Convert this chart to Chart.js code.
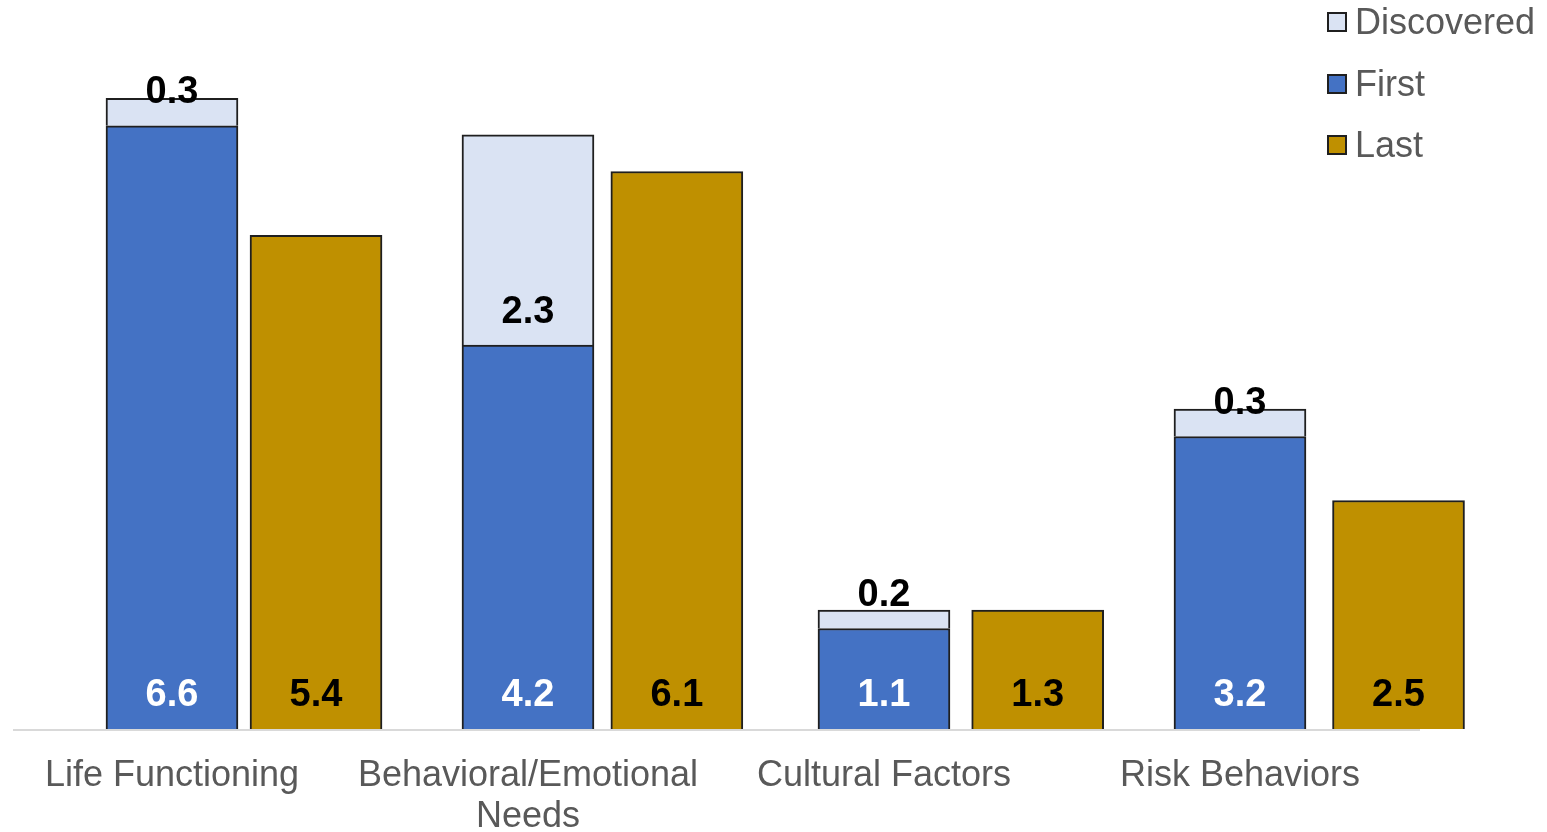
<!DOCTYPE html>
<html>
<head>
<meta charset="utf-8">
<script src="https://cdn.jsdelivr.net/npm/chart.js@4"></script>
<style>
  body { margin: 0; background: #fff; }
  #wrap { position: relative; width: 1547px; height: 832px; }
  #legend { position: absolute; left: 1327px; top: 0; font-family: "Liberation Sans", Arial, sans-serif; font-size: 36px; color: #595959; }
  #legend div { display: flex; align-items: center; height: 44px; margin-bottom: 17.5px; }
  #legend span.box { display: inline-block; width: 16px; height: 16px; border: 2px solid #1f1f1f; margin-right: 8px; }
</style>
</head>
<body>
<div id="wrap">
  <canvas id="myChart"></canvas>
  <div id="legend"></div>
</div>
<script>
/*

FIRST / LAST / DISCOVERED STACKED BARS

*/

const categories = [['Life Functioning'], ['Behavioral/Emotional', 'Needs'], ['Cultural Factors'], ['Risk Behaviors']]
const firstValues = [6.6, 4.2, 1.1, 3.2]
const discoveredValues = [0.3, 2.3, 0.2, 0.3]
const lastValues = [5.4, 6.1, 1.3, 2.5]

const colors = { Discovered: '#DAE3F3', First: '#4472C4', Last: '#BF9000' }
const labelColors = { Discovered: '#000', First: '#fff', Last: '#000' }

// category index -> point, so each series sits on its own x axis
const toPoints = values => values.map((v, i) => ({ x: i, y: v }))

// legend in html, top right, over the plot
const legendEl = document.getElementById('legend')
;['Discovered', 'First', 'Last'].forEach(name => {
    const row = document.createElement('div')
    row.innerHTML = '<span class="box" style="background:' + colors[name] + '"></span>' + name
    legendEl.appendChild(row)
})

// grey baseline like the excel axis line
const baseLine = {
    id: 'baseLine',
    beforeDatasetsDraw(chart) {
        const ctx = chart.ctx
        const y = chart.scales.y.getPixelForValue(0)
        ctx.save()
        ctx.strokeStyle = '#d9d9d9'
        ctx.lineWidth = 2
        ctx.beginPath()
        ctx.moveTo(13, y + 1)
        ctx.lineTo(1420, y + 1)
        ctx.stroke()
        ctx.restore()
    }
}

// value labels at the inside base of each segment
const valueLabels = {
    id: 'valueLabels',
    afterDatasetsDraw(chart) {
        const ctx = chart.ctx
        ctx.save()
        ctx.font = 'bold 38px "Liberation Sans", Arial, sans-serif'
        ctx.textAlign = 'center'
        ctx.textBaseline = 'middle'
        chart.data.datasets.forEach((ds, i) => {
            const meta = chart.getDatasetMeta(i)
            meta.data.forEach((bar, j) => {
                ctx.fillStyle = labelColors[ds.label]
                ctx.fillText(ds.data[j].y.toFixed(1), bar.x, bar.base - 33)
            })
        })
        ctx.restore()
    }
}

// no extra side padding for the labels, the plot runs edge to edge
const noSidePadding = scale => {
    scale.paddingLeft = 0
    scale.paddingRight = 0
}

let ctx = document.getElementById('myChart').getContext('2d')

let barChart = new Chart(ctx, {
    type: 'bar',
    data: {
        datasets: [{
            label: 'First',
            data: toPoints(firstValues),
            stack: 'a',
            xAxisID: 'x',
            backgroundColor: colors.First
        }, {
            label: 'Discovered',
            data: toPoints(discoveredValues),
            stack: 'a',
            xAxisID: 'x',
            backgroundColor: colors.Discovered
        }, {
            label: 'Last',
            data: toPoints(lastValues),
            stack: 'b',
            xAxisID: 'x2',
            backgroundColor: colors.Last
        }]
    },
    options: {
        responsive: true,
        maintainAspectRatio: false,
        animation: false,
        layout: { padding: { left: 0, right: 0, top: 43.5, bottom: 0 } },
        datasets: {
            bar: {
                grouped: false,
                borderColor: '#1f1f1f',
                borderWidth: 2,
                barThickness: 132
            }
        },
        plugins: {
            legend: { display: false },
            tooltip: { enabled: false }
        },
        scales: {
            x: {
                type: 'linear',
                offset: false,
                min: -0.4831,
                max: 3.8624,
                grid: { display: false },
                border: { display: false },
                afterFit(scale) {
                    scale.height = 103
                    noSidePadding(scale)
                },
                ticks: {
                    stepSize: 1,
                    includeBounds: false,
                    color: '#595959',
                    padding: 18,
                    maxRotation: 0,
                    autoSkip: false,
                    font: { family: '"Liberation Sans", Arial, sans-serif', size: 36, lineHeight: 1.15 },
                    callback: v => Number.isInteger(v) && categories[v] ? categories[v] : ''
                }
            },
            x2: {
                type: 'linear',
                offset: false,
                display: false,
                min: -0.8758,
                max: 3.4115,
                afterFit: noSidePadding
            },
            y: {
                stacked: true,
                display: false,
                min: 0,
                max: 7.5
            }
        }
    },
    plugins: [baseLine, valueLabels]
});
</script>
</body>
</html>
